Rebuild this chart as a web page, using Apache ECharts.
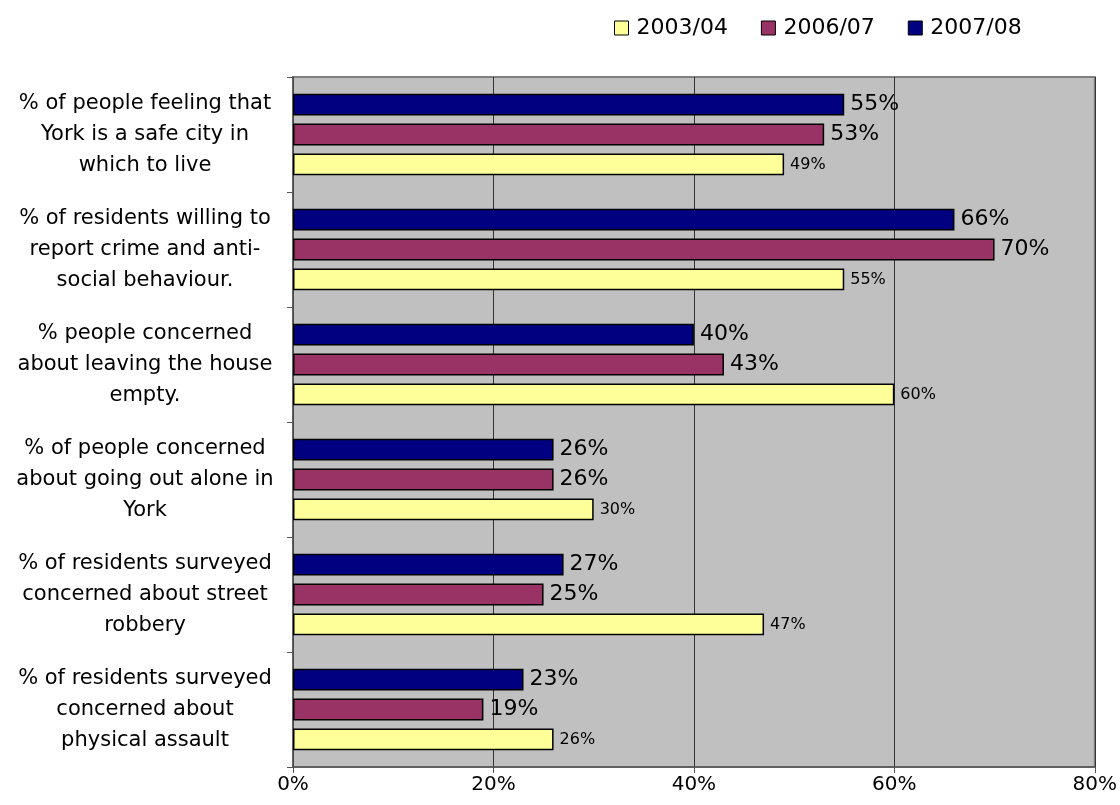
<!DOCTYPE html>
<html>
<head>
<meta charset="utf-8">
<script src="https://cdn.jsdelivr.net/npm/echarts@6/dist/echarts.min.js"></script>
<style>html,body{margin:0;padding:0;background:#fff}#c{width:1120px;height:805px}</style>
</head>
<body>
<div id="c"></div>
<script>
const categories = [
  "% of people feeling that\nYork is a safe city in\nwhich to live",
  "% of residents willing to\nreport crime and anti-\nsocial behaviour.",
  "% people concerned\nabout leaving the house\nempty.",
  "% of people concerned\nabout going out alone in\nYork",
  "% of residents surveyed\nconcerned about street\nrobbery",
  "% of residents surveyed\nconcerned about\nphysical assault"
];
const v2003 = [49, 55, 60, 30, 47, 26];
const v2006 = [53, 70, 43, 26, 25, 19];
const v2007 = [55, 66, 40, 26, 27, 23];
const xTicks = [0, 20, 40, 60, 80];
const legendNames = ["2003/04", "2006/07", "2007/08"];

const FONT = "DejaVu Sans, Verdana, sans-serif";
const chart = echarts.init(document.getElementById('c'));

function bar(name, data, color, labelSize) {
  return {
    name, type: 'bar', data,
    barCategoryGap: '29%', barGap: '36%',
    itemStyle: { color, borderColor: '#000', borderWidth: 1.5 },
    label: { show: true, position: 'right', distance: 6, formatter: p => p.value + '%',
      fontFamily: FONT, fontSize: labelSize, color: '#000' },
    animation: false
  };
}

chart.setOption({
  animation: false,
  textStyle: { fontFamily: FONT },
  legend: {
    data: legendNames,
    top: 12, left: 609,
    itemWidth: 14, itemHeight: 14, itemGap: 33,
    icon: 'rect',
    textStyle: { fontFamily: FONT, fontSize: 22, color: '#000', padding: [0,0,0,3] },
    itemStyle: { borderColor: '#000', borderWidth: 1 }
  },
  grid: {
    left: 293, right: 25, top: 77, bottom: 38,
    show: true, backgroundColor: '#C0C0C0', borderColor: '#808080', borderWidth: 2
  },
  xAxis: {
    type: 'value', min: 0, max: 80, interval: 20,
    axisLine: { show: true, lineStyle: { color: '#555', width: 1.5 } },
    axisTick: { show: true, length: 6, lineStyle: { color: '#555' } },
    splitLine: { show: true, lineStyle: { color: '#333', width: 1 } },
    axisLabel: { formatter: v => xTicks.includes(v) ? v + '%' : '', fontFamily: FONT, fontSize: 20, color: '#000', margin: 8 }
  },
  yAxis: {
    type: 'category', data: categories, inverse: true,
    axisLine: { show: true, lineStyle: { color: '#555', width: 1.5 } },
    axisTick: { show: true, length: 6, lineStyle: { color: '#555' } },
    axisLabel: { fontFamily: FONT, fontSize: 21, color: '#000', align: 'center', margin: 148, lineHeight: 31, padding: [6, 0, 0, 0] }
  },
  series: [
    bar('2007/08', v2007, '#000080', 22),
    bar('2006/07', v2006, '#993366', 22),
    bar('2003/04', v2003, '#FFFF99', 16)
  ]
});
</script>
</body>
</html>
